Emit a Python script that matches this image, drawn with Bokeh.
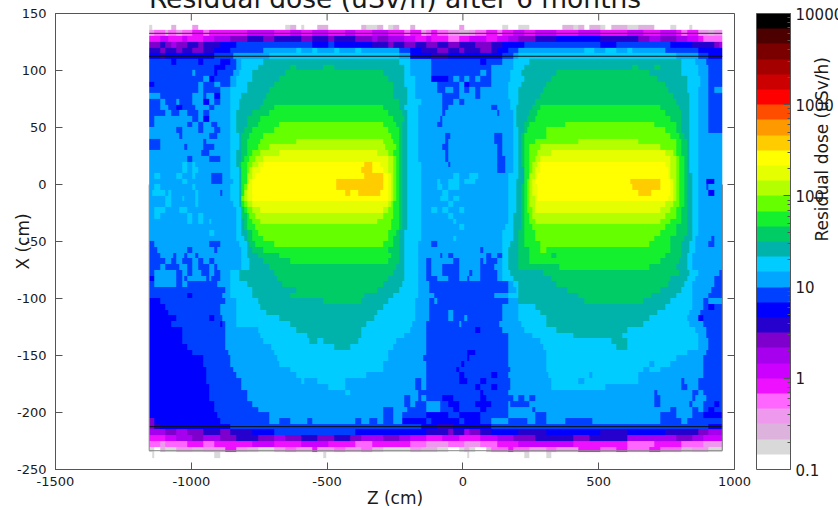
import numpy as np
from bokeh.models import (ColorBar, FixedTicker, LinearAxis, LogColorMapper)
from bokeh.plotting import figure
from bokeh.embed import file_html
from bokeh.resources import INLINE

TITLE = "Residual dose (uSv/h) after 6 months"
X_TICKS = [-1500, -1000, -500, 0, 500, 1000]
Y_TICKS = [-250, -200, -150, -100, -50, 0, 50, 100, 150]
BAR_TICKS = [0.1, 1, 10, 100, 1000, 10000]
BAR_MINOR = [m * d for d in [0.1, 1, 10, 100, 1000] for m in [2, 3, 4, 5, 6, 7, 8, 9]]
PALETTE = ["#ffffff", "#d9d9d9", "#ddb3dd", "#ee99ee", "#ff66ff", "#ee11ff",
           "#cc00ff", "#a600ee", "#7f00cc", "#2600cc", "#0000ff", "#0040ff",
           "#00a6ff", "#00ccff", "#00b3aa", "#00cc66", "#14f02d", "#66ff00",
           "#b3ff00", "#e6ff00", "#ffff00", "#ffcc00", "#ff9900", "#ff4d00",
           "#ff0000", "#cc0000", "#a40000", "#7a0000", "#4d0000", "#000000"]
LEVELS = "wghijklmnopqrstuvxyzAB"
LEVEL_DOSE = [0.12, 0.18, 0.26, 0.38, 0.56, 0.83, 1.2, 1.8, 2.6, 3.8, 5.6, 8.3,
              12, 18, 26, 38, 56, 83, 120, 180, 260, 380]

Z_LEFT, Z_RIGHT, Z_STEP = -1155, 955, 10
X_TOP, X_STEP = 140, 5

# One string per row of 5 cm, top to bottom: level letter + Z (cm) where the run ends.
ROWS = [
"g-1145 .-1070 h-1060 .-990 i-980 .-760 g-750 .-660 g-640 h-620 .-600 g-585 .-530 h-500 .-460 h-450 .-380 h-350 g-320 h-290 .-280 g-260 h-240 .-190 h-180 .-10 i0 .150 g160 .210 g240 .360 h400 g420 h450 .460 g470 h510 g530 .540 h600 g650 h700 .770 g790 .835 g845 .955",
"i-1130 j-1100 h-1085 j-1060 i-1040 j-1000 k-960 j-930 k-800 l-700 k-640 l-600 k-550 l-500 k-440 l-400 k-330 l-280 k-220 j-190 k-160 i-140 j-110 k-90 j-50 i-20 h20 i50 j90 k120 j150 k180 l220 k260 l340 k420 l500 k600 l660 k720 l780 k800 j830 k860 i900 h920 i955",
"k-1110 l-1085 k-1040 l-1010 k-960 l-920 m-860 n-800 o-740 n-700 o-600 n-560 o-500 n-470 o-400 n-340 m-310 n-280 m-220 l-180 k-140 l-110 k-60 j-20 k30 l80 k120 l170 m210 n270 o340 p500 o640 n680 m720 n780 m830 l860 k890 j955",
"n-1120 o-1100 n-1070 m-1050 n-1020 o-980 n-950 o-900 p-840 q-550 p-500 q-480 p-340 o-280 n-250 o-220 n-170 o-130 n-100 o-50 n-10 o50 n100 o150 p220 q500 p560 q760 p840 o920 n945 m955",
"o-1110 n-1090 o-1060 n-1030 o-990 n-960 o-920 p-860 q-730 r-620 s-600 r-560 s-530 r-480 s-450 r-400 s-370 r-230 q-190 p-150 o-100 n-60 o-20 n10 o60 n100 o130 p160 q200 r450 s480 r520 s560 r600 s620 r750 q860 p955",
"p-1110 o-1090 p-920 q-845 r-720 s-230 r-200 p-110 o-60 p150 q190 r210 s790 r860 q910 p955",
"q-1080 p-1060 q-980 p-960 q-900 p-850 q-835 r-815 s-730 t-230 s-200 r-110 q60 p80 q145 r185 s240 t800 s855 r895 q955",
"q-1040 p-1030 q-910 p-880 q-835 r-815 s-750 t-640 u-620 t-520 u-470 t-215 s-190 r-110 q110 r180 s225 t620 u640 t700 u720 t800 s860 r905 q955",
"r-1150 q-1000 r-985 q-920 p-905 q-845 r-825 s-770 t-650 u-300 t-210 s-190 r-110 q60 r80 q100 r175 s215 t350 u690 t810 s870 r905 q955",
"q-960 r-940 p-910 q-860 r-830 s-780 t-680 u-280 t-210 s-180 r-110 p-60 q-40 r-20 q0 r20 q50 r60 q100 r175 s225 t330 u715 t820 s875 r905 q955",
"p-1130 q-970 r-950 q-920 r-900 q-860 r-840 s-790 t-700 u-260 t-210 s-180 r-95 q-60 p-50 q-10 r10 p30 q100 r170 s215 t310 u740 t825 s875 r905 q955",
"q-980 r-960 q-940 r-930 q-890 r-855 s-800 t-715 u-250 t-205 s-175 r-90 q-65 r-40 q-20 r0 q30 r50 q60 r170 s210 t295 u755 t830 s870 r905 q930 r955",
"r-1110 q-1000 r-960 q-945 r-915 p-895 r-860 s-810 t-725 u-250 t-205 s-170 r-80 q-20 r45 q60 r170 s205 t280 u775 t835 s870 r905 q955",
"q-1110 r-1090 q-1060 r-1045 q-990 r-950 p-935 r-915 q-900 r-860 s-825 t-735 u-240 t-205 s-160 r-70 q-30 r-10 q10 r175 s200 t270 u785 t836 s860 r905 q955",
"q-1110 r-1085 q-1050 p-1030 q-985 r-940 q-920 r-860 s-825 t-745 u-700 v-290 u-230 t-210 s-165 r-80 q-60 r110 q125 r175 s195 t255 u285 v730 u795 t836 s860 r905 q955",
"q-1090 r-1070 q-1045 r-1020 q-980 r-950 q-940 r-860 s-830 t-780 u-720 v-270 u-225 t-205 s-165 r-80 q-65 r120 q135 r180 s195 t240 u275 v745 u800 t836 s865 r905 q955",
"q-1130 r-1000 q-970 r-950 p-935 r-860 s-830 t-790 u-745 v-250 u-220 t-205 s-165 r-85 q-70 r180 s195 t235 u270 v770 u800 t836 s865 r900 q955",
"q-1135 r-1010 q-990 r-975 q-955 r-925 q-905 r-860 s-830 t-800 u-760 v-670 x-300 v-245 u-225 t-205 s-165 r-90 q-75 r180 s195 t230 u250 v375 x700 v780 u800 t835 s870 r905 q955",
"r-1050 q-1035 r-980 q-950 r-920 q-900 r-860 s-830 t-805 u-775 v-700 x-280 v-240 u-225 t-205 s-165 r180 s200 t220 u235 v310 x745 v785 u810 t836 s870 r900 q955",
"r-1045 q-1030 r-940 q-905 r-860 s-825 t-810 u-785 v-730 x-265 v-235 u-225 t-205 s-165 r-65 q-45 r115 q145 r180 s200 t218 u230 v300 x765 v795 u815 t836 s870 r955",
"q-1120 r-960 q-945 r-860 s-825 t-815 u-790 v-745 x-620 y-290 x-255 v-235 u-225 t-205 s-165 r-65 q-50 r115 q145 r180 s200 t218 u228 v260 x420 y650 x780 v805 u820 t838 s870 r955",
"q-1115 r-1025 q-1015 r-950 q-920 r-860 s-825 t-815 u-795 v-760 x-720 y-285 x-245 v-232 u-222 t-205 s-165 r-70 q-55 r120 q150 r180 s205 t218 u226 v245 x290 y720 x785 v805 u822 t838 s870 r955",
"r-1000 q-990 r-965 q-940 r-860 s-830 t-815 u-800 v-770 x-745 y-670 z-310 y-280 x-250 v-235 u-225 t-205 s-165 r-65 q-50 r125 q150 r180 s205 t218 u226 v240 x275 y320 z750 y775 x790 v810 u822 t838 s870 r955",
"r-1010 q-1000 r-930 q-900 r-860 s-830 t-820 u-805 v-785 x-765 y-735 z-280 y-260 x-245 v-235 u-225 t-205 s-165 r-65 q-50 r130 q155 r180 s205 t218 u226 v240 x262 y290 z760 y780 x795 v812 u822 t838 s870 r955",
"r-1060 s-1050 r-1030 s-1020 r-1000 s-985 r-860 s-840 t-825 u-815 v-795 x-780 y-760 z-730 A-365 B-330 A-305 z-275 y-260 x-245 v-235 u-225 t-205 s-160 r-60 q-45 r130 q155 r180 s205 t218 u226 v240 x258 y274 z290 A745 z770 y780 x795 v812 u825 t838 s865 r955",
"r-1030 s-1020 r-990 s-980 r-850 s-825 t-815 u-810 v-795 x-785 y-770 z-745 A-370 B-330 A-290 z-270 y-255 x-245 v-235 u-225 t-205 s-160 r130 q155 r180 s205 t220 u228 v240 x255 y268 z290 A755 z770 y780 x795 v812 u825 t838 s865 r955",
"r-1130 s-1120 r-1055 s-1040 r-1000 s-985 r-925 q-885 r-850 s-825 t-815 u-810 v-800 x-790 y-780 z-765 A-365 B-295 A-275 z-262 y-255 x-245 v-235 u-225 t-205 s-155 r-35 s-20 r30 s55 r170 s200 t220 u228 v240 x250 y262 z275 A758 z770 y782 x795 v812 u825 t845 s870 r955",
"r-1060 s-1050 r-1030 s-1015 r-925 q-885 r-845 s-825 t-815 u-812 v-800 x-795 y-785 z-770 A-465 B-295 A-270 z-262 y-255 x-245 v-235 u-225 t-205 s-155 r-100 s-85 r-50 s-20 r10 s40 r170 s195 t220 u228 v238 x248 y258 z270 A615 B725 A765 z775 y785 x798 v815 u825 t845 s870 r895 p920 r940 p950 r955",
"r-1130 s-1120 r-1000 s-985 r-850 s-825 t-818 u-812 v-805 x-798 y-790 z-775 A-465 B-295 A-270 z-262 y-255 x-245 v-235 u-225 t-205 s-155 r-100 s-80 r-60 s-20 r170 s195 t218 u226 v238 x248 y258 z272 A630 B725 A765 z775 y785 x798 v815 u825 t845 s870 r895 q905 r955",
"r-1145 s-1100 r-1085 s-1070 r-985 s-970 r-900 q-885 r-850 s-825 t-820 u-815 v-808 x-802 y-795 z-780 A-430 B-415 A-385 B-305 A-270 z-262 y-255 x-245 v-235 u-225 t-205 s-155 r-75 s-50 r170 s195 t218 u226 v238 x248 y258 z272 A645 B695 A765 z775 y785 x798 v815 u825 t845 s870 r905 p925 r955",
"r-1100 s-1075 r-1040 s-1025 r-985 s-970 r-850 s-825 t-820 u-815 v-810 x-805 y-795 z-775 A-275 z-265 y-255 x-245 v-235 u-225 t-205 s-155 r-85 s-60 r-40 s-20 r170 s195 t218 u226 v238 x250 y262 z275 A755 z772 y785 x798 v815 u825 t845 s865 r955",
"r-1100 s-1080 r-1040 s-1030 r-985 s-975 r-845 s-825 t-820 u-815 v-805 x-795 y-770 z-280 y-265 x-250 v-235 u-225 t-205 s-150 r-100 s-90 r-50 s-30 r165 s195 t215 u222 v238 x250 y262 z745 y775 x795 v812 u825 t845 s865 r955",
"r-1130 s-1100 r-1045 s-1020 r-980 s-970 r-840 s-820 t-815 u-808 v-795 x-775 y-745 z-300 y-270 x-250 v-235 u-225 t-205 s-150 r-110 s-100 r-70 s-55 r-20 s0 r165 s195 t215 u222 v238 x252 y268 z720 y760 x790 v810 u825 t845 s860 r955",
"r-1135 s-1120 r-1010 s-990 r-975 s-960 r-840 s-815 t-810 u-800 v-785 x-765 y-290 x-255 v-238 u-225 t-205 s-150 r-60 s-40 r160 s190 t215 u222 v240 x258 y750 x780 v805 u825 t845 s860 r955",
"r-1015 s-995 r-975 s-960 r-930 s-925 r-835 s-815 t-808 u-795 v-775 x-745 y-310 x-265 v-240 u-225 t-205 s-150 r-40 s-25 r160 s190 t215 u222 v245 x265 y725 x770 v800 u825 t845 s860 r955",
"r-980 s-970 r-835 s-815 t-805 u-790 v-765 x-265 v-240 u-228 t-205 s-150 r-10 s0 r155 s185 t215 u225 v255 x745 v790 u825 t845 s860 r955",
"r-930 s-920 r-830 s-810 t-800 u-780 v-755 x-270 v-245 u-230 t-210 s-150 r150 s180 t210 u225 v260 x730 v780 u820 t845 s860 r955",
"q-1150 r-830 s-805 t-795 u-775 v-740 x-280 v-250 u-232 t-210 s-150 r-35 s-25 r150 s180 t210 u225 v270 x700 v770 u815 t840 s855 r915 q925 r955",
"q-1130 r-935 q-890 r-825 s-800 t-785 u-765 v-690 x-290 v-255 u-235 t-215 s-165 r-120 q-100 r150 s175 t205 u225 v285 x690 v765 u810 t835 s855 r905 q925 r955",
"q-1125 r-1010 q-995 r-920 q-905 r-820 s-795 t-770 u-730 v-270 u-240 t-220 s-165 r60 q75 r145 s170 t210 u240 v290 x300 v760 u800 t835 s855 r880 q890 r955",
"q-1110 r-1065 q-1050 r-1025 q-1010 r-985 q-970 r-815 s-790 t-755 u-680 v-265 u-235 t-215 s-165 r-85 q-75 r-50 q-40 r90 q105 r120 q145 r150 s170 t205 u240 v320 u340 v745 u800 t830 s850 r955",
"q-1100 r-1075 q-1060 r-1030 q-1000 r-975 q-960 r-930 q-920 r-810 s-785 t-740 u-640 v-275 u-240 t-215 s-165 r-130 q-120 r-40 q-10 r60 q75 r90 q120 r150 s170 t205 u240 v720 u795 t825 s850 r955",
"q-1110 r-1090 q-1045 r-1015 q-995 r-975 q-940 r-920 q-905 r-810 s-785 t-720 u-245 t-215 s-165 r-130 q-120 r-70 q-10 r65 q115 r150 s170 t205 u355 v690 u790 t825 s850 r955",
"q-1140 r-1050 q-1035 r-1015 q-990 r-965 q-930 r-920 q-895 r-855 s-825 t-700 u-250 t-210 s-165 r-135 q-120 r-70 q-10 r20 q35 r60 q125 r150 s175 t295 u795 t835 s860 r940 q955",
"p-1135 r-1060 q-1040 r-1025 q-1010 r-945 q-935 r-925 q-900 r-855 s-825 t-685 u-275 t-210 s-165 r-135 q-100 r-60 q-10 r15 q30 r60 q120 r150 s180 t330 u770 t830 s855 r930 q955",
"q-1130 r-1060 q-1040 r-1020 q-905 r-860 s-790 t-665 u-300 t-225 s-165 r-125 q160 r190 s200 t345 u755 t815 s850 r925 q955",
"q-880 r-855 s-780 t-610 u-320 t-235 s-165 r-125 q160 r195 s205 t385 u725 t805 s850 r915 q955",
"q-1010 p-990 q-885 r-850 s-770 t-640 u-365 t-250 s-165 r-105 q115 r165 s200 t430 u695 t780 s845 r905 q955",
"p-1110 q-880 r-840 s-755 t-520 u-375 t-270 s-170 r-125 q-105 r-90 q160 r200 s210 t440 u660 t760 s840 r890 q905 r955",
"p-1095 q-890 r-840 s-745 t-290 s-175 r-125 q145 r205 s260 t745 s840 r880 q905 p925 q955",
"p-1085 q-890 r-830 s-725 t-310 s-180 r-125 q-60 r-40 q140 r205 s285 t715 s835 r875 q955",
"p-1060 q-930 p-920 q-885 r-835 s-680 t-325 s-180 r-125 q-50 r-35 q5 r15 q140 r205 s300 t680 s830 r870 p885 q955",
"p-1070 q-900 p-885 q-870 r-840 s-640 t-350 s-185 r-130 q-15 r-5 q135 r215 s310 t660 s835 r880 q955",
"p-1040 q-873 r-750 s-610 t-375 s-195 r-130 q50 p60 q150 r225 s350 t605 s855 r895 q955",
"p-1035 q-870 r-745 s-570 t-380 s-215 r-130 q165 r255 s400 t590 s860 r895 q955",
"p-1030 q-870 r-735 s-565 t-530 s-520 t-460 s-450 t-385 s-245 r-130 q165 r280 s540 t610 s865 r900 q955",
"p-1020 q-870 r-705 s-470 t-415 s-255 r-130 q165 r295 s570 t600 s860 r905 q955",
"p-1000 q-865 r-695 s-270 r-135 q15 p40 q165 r305 s820 r895 q955",
"p-960 q-860 r-685 s-280 r-145 q15 p25 q60 p70 q170 r300 s780 r880 q955",
"p-950 q-855 r-680 s-300 r-140 q-5 p5 q20 p30 q170 r305 s690 r705 s760 r880 q955",
"p-945 q-845 r-640 s-300 r-140 q-25 p-15 q175 r310 s660 r690 s730 r885 q955",
"p-945 q-835 r-620 s-520 r-510 s-360 r-140 q-20 p10 q110 p125 q170 r315 s460 r475 s640 r800 q810 r880 q955",
"p-945 q-820 r-600 s-585 r-530 s-500 r-500 s-430 r-180 q-160 r-130 q-10 p15 q65 p85 q175 r320 s420 r440 s640 r800 q815 r860 q955",
"p-940 q-815 r-500 s-440 r-170 q-150 r-135 q50 p65 q105 p125 q175 r325 s530 r800 q820 r870 q955",
"p-930 q-800 r-430 s-410 r-165 q-140 r-130 q60 p75 q120 p130 q170 r705 q715 r850 q860 r880 q955",
"p-930 q-790 r-210 q-195 r-165 q-150 r-130 q-80 p-30 q65 p90 q185 r205 q225 r245 q270 r710 q725 r840 q855 r895 q955",
"p-920 q-770 r-215 q-190 r-170 q-130 r-85 q-60 p-20 q50 p110 q160 r175 q205 r210 q240 r705 q730 r835 q845 r885 q925 p940 q955",
"p-915 q-750 r-290 q-260 r-205 q-130 r-85 q-30 p-10 q60 p90 q165 r255 q270 r300 q310 r760 q790 r845 q870 r890 q905 p920 q955",
"p-905 q-715 r-295 q-255 r-225 q-130 p-60 q-20 p60 q160 r260 q300 r730 q790 r845 q880 p955",
"n-1140 p-900 q-715 r-670 q-630 r-575 q-555 r-400 q-375 r-345 q-320 r-300 q-250 r-225 p-130 q-110 p-20 q10 p60 q100 r165 q235 r270 q300 r375 q475 r725 q805 r830 q955",
"n-1130 o-1110 p-860 q-150 p-90 o-30 p100 q500 r510 q640 r650 q910 p955",
"m-1100 n-1060 m-1020 n-960 o-900 n-860 o-780 p-700 q-400 p-130 o-60 n-30 o0 m30 n60 o100 p200 o300 p500 o600 p740 o870 n900 m955",
"k-1100 l-1060 m-1000 n-960 m-900 n-840 o-750 n-700 m-650 n-600 o-540 n-470 o-420 n-380 m-300 n-240 m-200 l-130 k-70 l-10 k60 l120 m180 n260 o400 n470 o600 m780 n840 m890 l955",
"j-1120 i-1090 j-1020 k-960 j-920 k-780 l-700 k-600 l-500 k-400 j-340 k-200 j-130 i-60 j0 i60 j130 k200 l400 k600 j700 k800 j880 i955",
"g-1130 .-1120 h-1090 g-1050 i-1000 h-960 i-880 k-840 i-800 h-760 g-700 i-650 j-620 i-560 k-540 i-480 j-430 i-380 j-340 h-300 g-200 i-150 h-100 g-60 .-20 g0 h20 g50 .80 h100 j160 k190 j240 i300 j350 i420 k500 j560 k600 j680 k720 j800 h850 i900 g955",
".-1145 g-1135 .-910 g-900 .-800 g-790 .-515 g-505 .15 g25 .140 i150 .230 g240 .310 g320 .500 g510 .580 g590 .955",
]

# Thin rectangle lines drawn over the map
LINE_Z0 = [-1155, -1155, -1155, -1155, -1155, 955]
LINE_Z1 = [955, 955, 955, 955, -1155, 955]
LINE_X0 = [132.6, 112.5, -212.4, -233.5, 0, 0]
LINE_X1 = [132.6, 112.5, -212.4, -233.5, -233.5, -233.5]
LINE_COLOR = ["#333333", "#111111", "#111111", "#888888", "#888888", "#777777"]

ncols = (Z_RIGHT - Z_LEFT) // Z_STEP
grid = np.full((len(ROWS), ncols), np.nan)
for i, row in enumerate(ROWS):
    start = 0
    for tok in row.split():
        end = min(ncols, max(0, round((int(tok[1:]) - Z_LEFT) / Z_STEP)))
        if tok[0] != "." and end > start:
            grid[i, start:end] = LEVEL_DOSE[LEVELS.index(tok[0])]
        start = max(start, end)

X_BOTTOM = X_TOP - X_STEP * len(ROWS)
mapper = LogColorMapper(palette=PALETTE, low=0.1, high=10000, nan_color="rgba(0,0,0,0)")

INK = "#1a1a1a"
AX = "#555555"
# The page sits 30 px above the window so that the title runs off its top edge, as in the reference.
TOP_OVERHANG = 30
RIGHT_OVERHANG = 8
p = figure(width=838 + RIGHT_OVERHANG, height=510 + TOP_OVERHANG, output_backend="svg", toolbar_location=None,
           x_range=(-1500, 1000), y_range=(-250, 150), tools="",
           min_border_left=55, min_border_right=104 + RIGHT_OVERHANG, min_border_top=13 + TOP_OVERHANG,
           min_border_bottom=41,
           margin=(-TOP_OVERHANG, 0, 0, 0), background_fill_color="white", border_fill_color="white",
           title=TITLE)
p.title.align = "center"
p.title.text_font = "DejaVu Sans"
p.title.text_font_size = "26.5px"
p.title.text_font_style = "normal"
p.title.text_color = INK
p.title.standoff = 0
p.grid.visible = False
p.outline_line_color = AX
p.image(image=[grid[::-1]], x=Z_LEFT, y=X_BOTTOM, dw=Z_RIGHT - Z_LEFT, dh=X_TOP - X_BOTTOM,
        color_mapper=mapper)
p.segment(LINE_Z0, LINE_X0, LINE_Z1, LINE_X1, line_color=LINE_COLOR, line_width=1)

# Mirrored inward ticks on the top and right frame sides (7 px long on the page)
tick_dy = 7 * 400 / 456
tick_dx = 7 * 2500 / 679
p.segment(X_TICKS, [150] * len(X_TICKS), X_TICKS, [150 - tick_dy] * len(X_TICKS), line_color=AX, line_width=1)
p.segment([1000] * len(Y_TICKS), Y_TICKS, [1000 - tick_dx] * len(Y_TICKS), Y_TICKS, line_color=AX, line_width=1)


def style(ax, ticks):
    ax.ticker = FixedTicker(ticks=ticks)
    ax.major_tick_in = 7
    ax.major_tick_out = 0
    ax.minor_tick_line_color = None
    ax.axis_line_color = AX
    ax.major_tick_line_color = AX
    ax.major_label_overrides = {t: str(t) for t in ticks}
    ax.major_label_text_font = "DejaVu Sans"
    ax.major_label_text_font_size = "13px"
    ax.major_label_text_color = INK


style(p.xaxis[0], X_TICKS)
style(p.yaxis[0], Y_TICKS)
p.xaxis[0].major_label_standoff = 7
p.yaxis[0].major_label_standoff = 9

# An empty axis on the right carries the colour bar's rotated title.
right = LinearAxis(ticker=FixedTicker(ticks=[]), axis_line_color=None, major_tick_line_color=None,
                   minor_tick_line_color=None)
right.axis_label_orientation = 1.5708
p.add_layout(right, "right")

for ax, t in ((p.xaxis[0], "Z (cm)"), (p.yaxis[0], "X (cm)"), (right, "Residual dose (uSv/h)")):
    ax.axis_label = t
    ax.axis_label_text_font = "DejaVu Sans"
    ax.axis_label_text_font_size = "17px"
    ax.axis_label_text_font_style = "normal"
    ax.axis_label_text_color = INK
p.xaxis[0].axis_label_standoff = -1
p.yaxis[0].axis_label_standoff = -19
right.axis_label_standoff = 88

bar = ColorBar(color_mapper=mapper, location=(701, 0), width=34, height=456, padding=0,
               ticker=FixedTicker(ticks=BAR_TICKS, minor_ticks=BAR_MINOR),
               major_label_overrides={t: str(t) for t in BAR_TICKS},
               major_label_text_font="DejaVu Sans", major_label_text_font_size="15px",
               major_label_text_color=INK, label_standoff=5,
               major_tick_in=7, major_tick_line_color=AX, minor_tick_in=3, minor_tick_line_color=AX,
               bar_line_color=AX, border_line_color=None, background_fill_color=None)
p.add_layout(bar, "center")

open("out.html", "w").write(file_html(p, INLINE))
